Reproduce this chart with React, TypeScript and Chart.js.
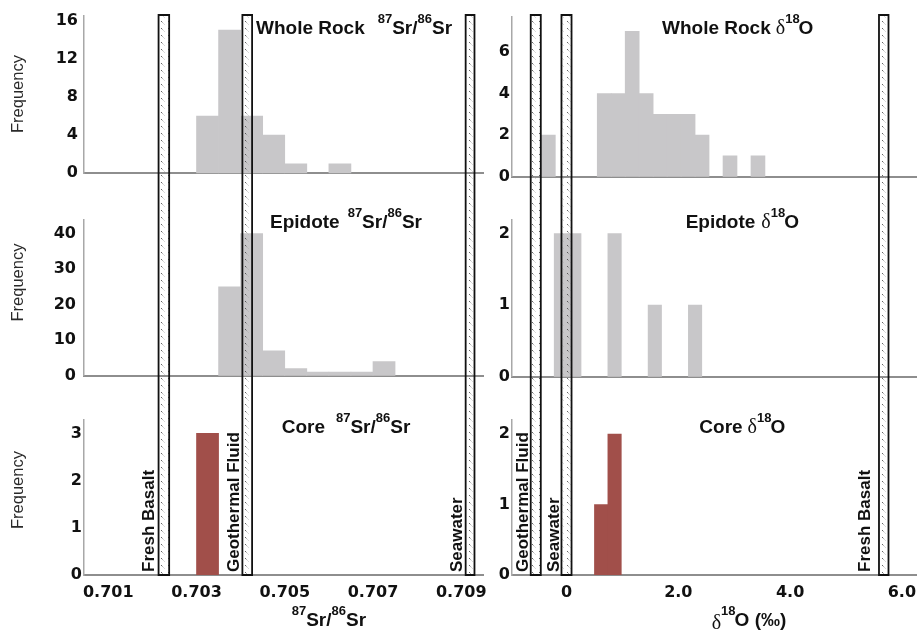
import React, { useEffect, useRef } from 'react';
import { Chart, registerables } from 'chart.js';

Chart.register(...registerables);

// ---------- DATA ----------
// 87Sr/86Sr histogram bins (centres, bin width 0.0005)
const srBinCenters = [0.70325, 0.70375, 0.70425, 0.70475, 0.70525, 0.70575, 0.70625, 0.70675, 0.70725];
const srWholeRock = [6, 15, 6, 4, 1, 0, 1, 0, 0];
const srEpidote = [0, 25, 40, 7, 2, 1, 1, 1, 4];
const srCore = [3, 0, 0, 0, 0, 0, 0, 0, 0];
const srTicks = [0.701, 0.703, 0.705, 0.707, 0.709];

// d18O whole rock histogram (bin width 0.25)
const o18WholeRockBins = [-0.325, -0.075, 0.175, 0.425, 0.675, 0.925, 1.175, 1.425, 1.675, 1.925, 2.175, 2.425, 2.675, 2.925, 3.175, 3.425];
const o18WholeRock = [2, 0, 0, 0, 4, 4, 7, 4, 3, 3, 3, 2, 0, 1, 0, 1];
// d18O epidote / core histograms (bin width 0.24)
const o18MineralBins = [-0.1, 0.14, 0.38, 0.62, 0.86, 1.1, 1.34, 1.58, 1.82, 2.06, 2.3];
const o18Epidote = [2, 2, 0, 0, 2, 0, 0, 1, 0, 0, 1];
const o18Core = [0, 0, 0, 1, 2, 0, 0, 0, 0, 0, 0];
const o18Ticks = [0, 2, 4, 6];

// reference end-member ranges
const srRefNames = ['Fresh Basalt', 'Geothermal Fluid', 'Seawater'];
const srRefLow = [0.70214, 0.70404, 0.7091];
const srRefHigh = [0.70238, 0.70426, 0.7093];
const o18RefNames = ['Geothermal Fluid', 'Seawater', 'Fresh Basalt'];
const o18RefLow = [-0.64, -0.09, 5.59];
const o18RefHigh = [-0.46, 0.09, 5.76];

// y ticks
const yTicksSrWhole = [0, 4, 8, 12, 16];
const yTicksSrEpi = [0, 10, 20, 30, 40];
const yTicksSrCore = [0, 1, 2, 3];
const yTicksOWhole = [0, 2, 4, 6];
const yTicksOEpi = [0, 1, 2];
const yTicksOCore = [0, 1, 2];

// ---------- STYLE ----------
const GRAY = '#c8c7c9';
const RED = '#a14f4a';
const B = (s: number) => `bold ${s}px "Liberation Sans", Arial, sans-serif`;
const SERIF = (s: number) => `${s}px "Liberation Serif", "Times New Roman", serif`;
const TICK_FONT = { family: '"DejaVu Sans", sans-serif', size: 16, weight: 'bold' as const };

type Seg = { t: string; f: string; dx?: number; dy?: number };

const srTitle = (name: string, gap: number): Seg[] => [
  { t: name, f: B(19) },
  { t: '87', f: B(13), dy: -11, dx: gap },
  { t: 'Sr/', f: B(19) },
  { t: '86', f: B(13), dy: -11 },
  { t: 'Sr', f: B(19) },
];
const oTitle = (name: string, gap: number): Seg[] => [
  { t: name, f: B(19) },
  { t: 'δ', f: SERIF(20), dx: gap },
  { t: '18', f: B(13), dy: -11 },
  { t: 'O', f: B(19), dx: -1 },
];

function drawRich(ctx: CanvasRenderingContext2D, x: number, y: number, segs: Seg[]) {
  let cx = x;
  ctx.textAlign = 'left';
  ctx.textBaseline = 'alphabetic';
  ctx.fillStyle = '#111';
  for (const s of segs) {
    ctx.font = s.f;
    cx += s.dx || 0;
    ctx.fillText(s.t, cx, y + (s.dy || 0));
    cx += ctx.measureText(s.t).width;
  }
}

function makeHatch() {
  const c = document.createElement('canvas');
  c.width = 7;
  c.height = 7;
  const g = c.getContext('2d')!;
  g.fillStyle = 'rgba(50,50,50,0.75)';
  g.fillRect(0, 0, 1, 1);
  g.fillStyle = 'rgba(120,120,120,0.55)';
  g.fillRect(1, 1, 1, 1);
  g.fillStyle = 'rgba(170,170,170,0.45)';
  g.fillRect(2, 2, 1, 1);
  g.fillRect(3, 3, 1, 1);
  return c;
}

type PanelSpec = {
  left: number; top: number; width: number; height: number;
  bins: number[]; values: number[]; color: string;
  xMin: number; xMax: number; xTicks: number[]; xFmt: (v: number) => string; showX: boolean;
  yMax: number; yTicks: number[];
  padTop: number; padBottom: number; padRight: number;
  yWidth: number; yPad: number; xHeight: number;
  refLo: number[]; refHi: number[]; refNames: string[]; labelGap: number[]; showRefLabels: boolean;
  hatchTop: number | null; hatchToAxis: boolean;
  title: Seg[]; titleX: number; titleY: number;
  freqY?: number;
  xTitle?: Seg[]; xTitleX?: number; xTitleY?: number;
};

const srFmt = (v: number) => v.toFixed(3);
const oFmt = (v: number) => (v === 0 ? '0' : v.toFixed(1));

const srCommon = {
  left: 0, width: 490, xMin: 0.70045, xMax: 0.7095, xTicks: srTicks, xFmt: srFmt,
  padRight: 6.7, yWidth: 84, refLo: srRefLow, refHi: srRefHigh, refNames: srRefNames,
  labelGap: [4, 2, 2.5], bins: srBinCenters,
};
const oCommon = {
  left: 490, width: 427, xMin: -0.975, xMax: 6.27, xTicks: o18Ticks, xFmt: oFmt,
  padRight: 0, yWidth: 22, yPad: 2, refLo: o18RefLow, refHi: o18RefHigh, refNames: o18RefNames,
  labelGap: [2, 2, 8.5],
};

const panels: PanelSpec[] = [
  {
    ...srCommon, top: 0, height: 196, values: srWholeRock, color: GRAY, showX: false,
    yMax: 16.5, yTicks: yTicksSrWhole, padTop: 15.7, padBottom: 22.7, yPad: 6, xHeight: 0,
    showRefLabels: false, hatchTop: 15, hatchToAxis: false,
    title: srTitle('Whole Rock', 13), titleX: 256, titleY: 34.3, freqY: 94,
  },
  {
    ...srCommon, top: 196, height: 201, values: srEpidote, color: GRAY, showX: false,
    yMax: 44, yTicks: yTicksSrEpi, padTop: 23.3, padBottom: 21.3, yPad: 8, xHeight: 0,
    showRefLabels: false, hatchTop: null, hatchToAxis: false,
    title: srTitle('Epidote', 8), titleX: 270, titleY: 32.3, freqY: 86.5,
  },
  {
    ...srCommon, top: 397, height: 235, values: srCore, color: RED, showX: true,
    yMax: 3.3, yTicks: yTicksSrCore, padTop: 22.3, padBottom: 0, yPad: 2, xHeight: 57,
    showRefLabels: true, hatchTop: null, hatchToAxis: true,
    title: srTitle('Core', 11), titleX: 281.7, titleY: 36.3, freqY: 93,
    xTitle: [
      { t: '87', f: B(13), dy: -11 },
      { t: 'Sr/', f: B(19) },
      { t: '86', f: B(13), dy: -11 },
      { t: 'Sr', f: B(19) },
    ],
    xTitleX: 291.7, xTitleY: 229,
  },
  {
    ...oCommon, top: 0, height: 196, bins: o18WholeRockBins, values: o18WholeRock, color: GRAY, showX: false,
    yMax: 7.7, yTicks: yTicksOWhole, padTop: 16.7, padBottom: 19.3, xHeight: 0,
    showRefLabels: false, hatchTop: 15, hatchToAxis: false,
    title: oTitle('Whole Rock', 5), titleX: 172, titleY: 34.3,
  },
  {
    ...oCommon, top: 196, height: 201, bins: o18MineralBins, values: o18Epidote, color: GRAY, showX: false,
    yMax: 2.2, yTicks: yTicksOEpi, padTop: 23.3, padBottom: 20.3, xHeight: 0,
    showRefLabels: false, hatchTop: null, hatchToAxis: false,
    title: oTitle('Epidote', 6), titleX: 195.7, titleY: 32.3,
  },
  {
    ...oCommon, top: 397, height: 235, bins: o18MineralBins, values: o18Core, color: RED, showX: true,
    yMax: 2.2, yTicks: yTicksOCore, padTop: 23, padBottom: 0, xHeight: 57,
    showRefLabels: true, hatchTop: null, hatchToAxis: true,
    title: oTitle('Core', 5), titleX: 209.3, titleY: 36.3,
    xTitle: [
      { t: 'δ', f: SERIF(20), dy: 3 },
      { t: '18', f: B(13), dy: -11 },
      { t: 'O (‰)', f: B(19), dx: -1 },
    ],
    xTitleX: 221.7, xTitleY: 229,
  },
];

function Panel({ spec }: { spec: PanelSpec }) {
  const ref = useRef<HTMLCanvasElement | null>(null);
  useEffect(() => {
    const canvas = ref.current;
    if (!canvas) return;
    const hatch = makeHatch();
    const overlay = {
      id: 'overlay',
      afterDraw(chart: any) {
        const { ctx, chartArea } = chart;
        const xs = chart.scales.x;
        ctx.save();
        const pat = ctx.createPattern(hatch, 'repeat');
        const y0 = spec.hatchTop === null ? 0 : spec.hatchTop;
        const y1 = spec.hatchToAxis ? chartArea.bottom : chart.height;
        spec.refLo.forEach((lo, i) => {
          const xa = xs.getPixelForValue(lo);
          const xb = xs.getPixelForValue(spec.refHi[i]);
          if (pat) {
            ctx.fillStyle = pat;
            ctx.fillRect(xa, y0, xb - xa, y1 - y0);
          }
          ctx.strokeStyle = '#111';
          ctx.lineWidth = 1.8;
          ctx.lineJoin = 'miter';
          ctx.beginPath();
          if (spec.hatchTop !== null) {
            ctx.moveTo(xa, y1);
            ctx.lineTo(xa, y0);
            ctx.lineTo(xb, y0);
            ctx.lineTo(xb, y1);
          } else if (spec.hatchToAxis) {
            ctx.moveTo(xa, y0);
            ctx.lineTo(xa, y1);
            ctx.lineTo(xb, y1);
            ctx.lineTo(xb, y0);
          } else {
            ctx.moveTo(xa, y0);
            ctx.lineTo(xa, y1);
            ctx.moveTo(xb, y0);
            ctx.lineTo(xb, y1);
          }
          ctx.stroke();
          if (spec.showRefLabels) {
            ctx.save();
            ctx.translate(xa - 0.9 - spec.labelGap[i], chartArea.bottom - 3);
            ctx.rotate(-Math.PI / 2);
            ctx.font = B(17);
            ctx.fillStyle = '#111';
            ctx.textAlign = 'left';
            ctx.textBaseline = 'alphabetic';
            ctx.fillText(spec.refNames[i], 0, 0);
            ctx.restore();
          }
        });
        drawRich(ctx, spec.titleX, spec.titleY, spec.title);
        if (spec.xTitle) drawRich(ctx, spec.xTitleX || 0, spec.xTitleY || 0, spec.xTitle);
        if (spec.freqY !== undefined) {
          ctx.save();
          ctx.translate(18, spec.freqY);
          ctx.rotate(-Math.PI / 2);
          ctx.font = '16.5px "Liberation Sans", Arial, sans-serif';
          ctx.fillStyle = '#2a2a2a';
          ctx.textAlign = 'center';
          ctx.textBaseline = 'middle';
          ctx.fillText('Frequency', 0, 0);
          ctx.restore();
        }
        ctx.restore();
      },
    };

    const chart = new Chart(canvas, {
      type: 'bar',
      data: {
        datasets: [
          {
            data: spec.bins.map((b, i) => ({ x: b, y: spec.values[i] })),
            backgroundColor: (c: any) => (c.raw && c.raw.y > 0 ? spec.color : 'rgba(0,0,0,0)'),
            borderWidth: 0,
            barPercentage: 1,
            categoryPercentage: 1,
          } as any,
        ],
      },
      options: {
        animation: false,
        responsive: false,
        events: [],
        layout: { padding: { left: 0, right: spec.padRight, top: spec.padTop, bottom: spec.padBottom } },
        plugins: { legend: { display: false }, tooltip: { enabled: false }, title: { display: false } },
        scales: {
          x: {
            type: 'linear',
            min: spec.xMin,
            max: spec.xMax,
            offset: false,
            z: 1,
            grid: { display: false, drawTicks: false },
            border: { display: true, color: '#8e8e8e', width: 2 },
            ticks: {
              display: spec.showX,
              font: TICK_FONT,
              color: '#111',
              padding: 8,
              maxRotation: 0,
              autoSkip: false,
              callback: (v: any) => spec.xFmt(Number(v)),
            },
            afterBuildTicks: (s: any) => {
              s.ticks = spec.xTicks.map((v) => ({ value: v }));
            },
            afterFit: (s: any) => {
              s.height = spec.xHeight;
              s.paddingLeft = 0;
              s.paddingRight = 0;
            },
          } as any,
          y: {
            type: 'linear',
            min: 0,
            max: spec.yMax,
            z: 1,
            grid: { display: false, drawTicks: false },
            border: { display: true, color: '#a8a8a8', width: 1.5 },
            ticks: { font: TICK_FONT, color: '#111', padding: spec.yPad, autoSkip: false },
            afterBuildTicks: (s: any) => {
              s.ticks = spec.yTicks.map((v) => ({ value: v }));
            },
            afterFit: (s: any) => {
              s.width = spec.yWidth;
              s.paddingTop = 0;
              s.paddingBottom = 0;
            },
          } as any,
        },
      },
      plugins: [overlay],
    });
    return () => chart.destroy();
  }, [spec]);

  return (
    <canvas
      ref={ref}
      width={spec.width}
      height={spec.height}
      style={{ position: 'absolute', left: spec.left, top: spec.top, width: spec.width, height: spec.height }}
    />
  );
}

export default function App() {
  return (
    <div style={{ position: 'fixed', left: 0, top: 0, width: 917, height: 632, background: '#fff', overflow: 'hidden' }}>
      {panels.map((p, i) => (
        <Panel key={i} spec={p} />
      ))}
    </div>
  );
}
